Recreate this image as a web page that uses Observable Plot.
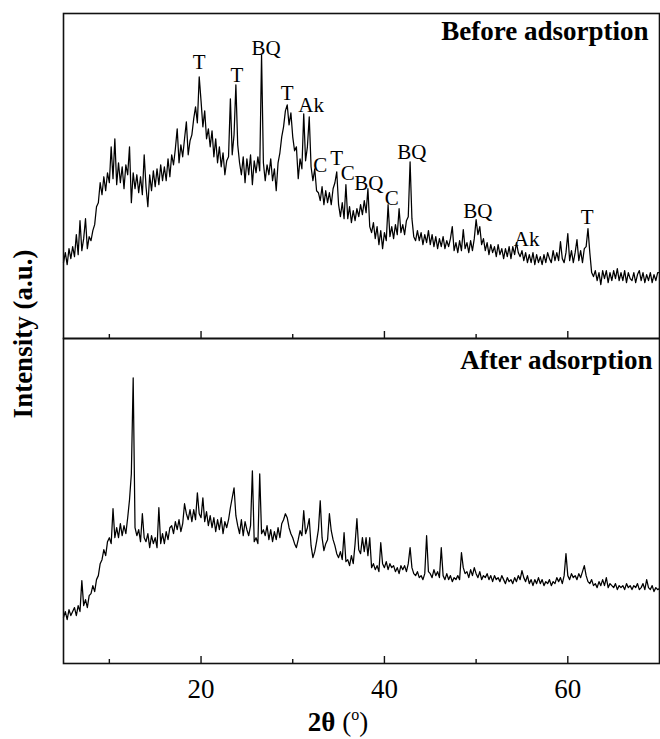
<!DOCTYPE html>
<html>
<head>
<meta charset="utf-8">
<script src="https://cdn.jsdelivr.net/npm/d3@7"></script>
<script src="https://cdn.jsdelivr.net/npm/@observablehq/plot@0.6"></script>
<style>
  body { margin: 0; background: #fff; }
  svg { display: block; }
</style>
</head>
<body>
<div id="chart"></div>
<script>
// ---- data ----
const panels = ["Before adsorption", "After adsorption"];
const scanStart = 5;      // 2θ of first reading
const scanStep = 0.2;     // 2θ step of the scan

// intensity (a.u.), one row per degree (x.0, x.2, x.4, x.6, x.8)
const beforeIntensity = [
  76, 86, 74, 90, 80,      // 5
  92, 82, 104, 84, 118,    // 6
  88, 100, 120, 90, 102,   // 7
  98, 108, 114, 132, 136,  // 8
  156, 144, 162, 148, 166, // 9
  156, 192, 160, 200, 154, // 10
  176, 156, 172, 150, 174, // 11
  164, 192, 136, 166, 150, // 12
  164, 146, 162, 144, 184, // 13
  152, 132, 164, 148, 168, // 14
  152, 170, 154, 174, 158, // 15
  172, 158, 180, 162, 184, // 16
  174, 190, 210, 176, 194, // 17
  182, 200, 217, 184, 198, // 18
  204, 220, 232, 216, 262, // 19
  238, 212, 228, 200, 210, // 20
  192, 208, 182, 200, 176, // 21
  192, 172, 186, 164, 178, // 22
  182, 240, 184, 204, 254, // 23
  194, 176, 164, 182, 156, // 24
  180, 164, 184, 154, 178, // 25
  166, 182, 168, 284, 176, // 26
  158, 174, 164, 180, 158, // 27
  170, 148, 176, 186, 202, // 28
  212, 228, 234, 214, 226, // 29
  202, 188, 192, 160, 180, // 30
  170, 225, 178, 192, 222, // 31
  172, 158, 170, 148, 146, // 32
  138, 152, 134, 148, 136, // 33
  146, 134, 150, 156, 167, // 34
  134, 122, 136, 120, 154, // 35
  120, 132, 116, 128, 118, // 36
  130, 122, 134, 124, 138, // 37
  126, 150, 112, 106, 116, // 38
  100, 112, 94, 108, 90,   // 39
  106, 98, 134, 102, 112,  // 40
  100, 114, 104, 130, 106, // 41
  114, 104, 118, 122, 177, // 42
  120, 102, 98, 108, 98,   // 43
  106, 94, 104, 96, 108,   // 44
  94, 104, 92, 102, 90,    // 45
  100, 92, 102, 90, 98,    // 46
  92, 100, 112, 88, 96,    // 47
  86, 98, 88, 109, 90,     // 48
  96, 86, 98, 88, 100,     // 49
  119, 104, 112, 94, 100,  // 50
  88, 96, 84, 94, 86,      // 51
  92, 82, 94, 84, 90,      // 52
  80, 90, 82, 92, 80,      // 53
  92, 84, 96, 86, 82,      // 54
  88, 78, 86, 76, 84,      // 55
  76, 86, 74, 84, 76,      // 56
  82, 74, 84, 76, 86,      // 57
  80, 76, 88, 78, 86,      // 58
  78, 97, 80, 76, 86,      // 59
  105, 78, 88, 76, 86,     // 60
  99, 78, 88, 76, 90,      // 61
  92, 110, 86, 66, 62,     // 62
  68, 58, 66, 54, 68,      // 63
  60, 68, 56, 66, 58,      // 64
  68, 60, 70, 58, 66,      // 65
  58, 68, 56, 66, 60,      // 66
  58, 66, 56, 64, 68,      // 67
  58, 66, 56, 64, 58,      // 68
  66, 56, 64, 58, 66,      // 69
  66                       // 70
];

const afterIntensity = [
  46, 52, 44, 54, 48,      // 5
  52, 56, 48, 58, 52,      // 6
  83, 58, 64, 56, 68,      // 7
  70, 78, 72, 84, 88,      // 8
  100, 104, 114, 108, 122, // 9
  126, 120, 155, 126, 136, // 10
  126, 140, 128, 138, 130, // 11
  146, 164, 190, 286, 136, // 12
  128, 134, 122, 150, 126, // 13
  122, 130, 116, 128, 120, // 14
  126, 116, 156, 120, 130, // 15
  120, 132, 124, 136, 138, // 16
  130, 142, 134, 144, 132, // 17
  140, 160, 150, 144, 154, // 18
  142, 154, 144, 171, 150, // 19
  146, 166, 142, 152, 138, // 20
  148, 136, 146, 132, 144, // 21
  134, 146, 130, 142, 136, // 22
  144, 156, 166, 176, 148, // 23
  138, 130, 144, 128, 142, // 24
  134, 128, 138, 193, 122, // 25
  126, 120, 190, 130, 134, // 26
  128, 138, 124, 134, 122, // 27
  132, 124, 136, 126, 140, // 28
  144, 150, 146, 136, 130, // 29
  126, 120, 116, 124, 133, // 30
  128, 153, 130, 136, 145, // 31
  118, 106, 112, 122, 134, // 32
  163, 126, 113, 120, 124, // 33
  150, 133, 124, 118, 110, // 34
  106, 112, 104, 131, 102, // 35
  104, 98, 108, 100, 120,  // 36
  145, 114, 110, 126, 112, // 37
  126, 108, 126, 96, 100,  // 38
  94, 98, 92, 121, 100,    // 39
  96, 102, 94, 100, 96,    // 40
  98, 92, 96, 90, 98,      // 41
  94, 98, 92, 100, 116,    // 42
  96, 90, 88, 92, 86,      // 43
  88, 84, 90, 128, 92,     // 44
  90, 86, 94, 88, 92,      // 45
  86, 116, 88, 84, 90,     // 46
  84, 88, 82, 86, 84,      // 47
  88, 84, 111, 96, 90,     // 48
  92, 86, 94, 88, 96,      // 49
  90, 86, 92, 84, 88,      // 50
  86, 90, 84, 88, 82,      // 51
  88, 84, 86, 82, 88,      // 52
  84, 80, 86, 82, 84,      // 53
  80, 86, 82, 88, 84,      // 54
  93, 86, 82, 88, 80,      // 55
  84, 78, 84, 80, 86,      // 56
  80, 84, 78, 82, 80,      // 57
  84, 78, 82, 80, 86,      // 58
  82, 86, 80, 88, 110,     // 59
  88, 84, 90, 86, 88,      // 60
  84, 90, 86, 92, 98,      // 61
  88, 82, 80, 84, 78,      // 62
  80, 76, 82, 78, 84,      // 63
  78, 86, 76, 80, 78,      // 64
  76, 80, 74, 78, 76,      // 65
  78, 74, 80, 76, 78,      // 66
  74, 78, 76, 80, 74,      // 67
  76, 80, 74, 84, 76,      // 68
  74, 78, 72, 76, 74,      // 69
  75                       // 70
];

// phase labels of the "before" pattern
const peakText  = ["T", "T", "BQ", "T", "Ak", "C", "T", "C", "BQ", "C", "BQ", "BQ", "Ak", "T"];
const peakAngle = [19.8, 23.9, 27.1, 29.4, 32.0, 33.0, 34.8, 36.0, 38.3, 40.8, 43.0, 50.2, 55.5, 62.1];
const peakLevel = [270, 257, 284, 239, 227, 167, 174, 159, 149, 134, 180, 121, 93, 115];

const xMajorTicks = [20, 40, 60];
const xMinorTicks = [10, 30, 50];
const xDomain = [5, 70];
const yDomain = [0, 325.5];   // 1 unit of intensity = 1 px
const majorTickLen = 7;
const minorTickLen = 4;

// ---- build ----
const rows = [];
beforeIntensity.forEach((v, i) => rows.push({panel: panels[0], angle: +(scanStart + i * scanStep).toFixed(1), intensity: v}));
afterIntensity.forEach((v, i) => rows.push({panel: panels[1], angle: +(scanStart + i * scanStep).toFixed(1), intensity: v}));
const peaks = peakText.map((t, i) => ({panel: panels[0], text: t, angle: peakAngle[i], level: peakLevel[i]}));
const ticks = [];
panels.forEach(p => {
  xMajorTicks.forEach(v => ticks.push({panel: p, angle: v, len: majorTickLen}));
  xMinorTicks.forEach(v => ticks.push({panel: p, angle: v, len: minorTickLen}));
});

const serif = '"Liberation Serif", "Times New Roman", Times, serif';

const plot = Plot.plot({
  width: 660,
  height: 739,
  marginLeft: 63,
  marginRight: 1,
  marginTop: 12,
  marginBottom: 76,
  style: {fontFamily: serif, fontSize: "21px", color: "black", background: "white"},
  x: {domain: xDomain},
  y: {domain: yDomain, axis: null},
  fy: {domain: panels, padding: 0, axis: null},
  marks: [
    Plot.line(rows, {x: "angle", y: "intensity", fy: "panel", stroke: "black", strokeWidth: 1.25}),
    Plot.frame({stroke: "#111", strokeWidth: 1.6}),
    // inward ticks at the bottom edge of each panel
    Plot.ruleX(ticks, {x: "angle", y1: yDomain[0], y2: "len", fy: "panel", stroke: "#111", strokeWidth: 1.4}),
    Plot.axisX(xMajorTicks, {tickSize: 0, tickPadding: 15, fontSize: 27, label: null, facetAnchor: "bottom"}),
    Plot.text(peaks, {x: "angle", y: "level", fy: "panel", text: "text", lineAnchor: "bottom", textAnchor: "middle", fontSize: 21, fill: "black"}),
    Plot.text([panels[0]], {fy: d => d, text: d => d, frameAnchor: "top-right", textAnchor: "end", lineAnchor: "top", dx: -11, dy: 7, fontSize: 27, fontWeight: "bold", fill: "black"}),
    Plot.text([panels[1]], {fy: d => d, text: d => d, frameAnchor: "top-right", textAnchor: "end", lineAnchor: "top", dx: -7, dy: 11, fontSize: 27, fontWeight: "bold", fill: "black"})
  ]
});

// axis titles
const svg = d3.select(plot);
svg.append("text")
  .attr("transform", "translate(32,334) rotate(-90)")
  .attr("text-anchor", "middle")
  .attr("font-weight", "bold")
  .attr("font-size", 27)
  .attr("fill", "black")
  .text("Intensity (a.u.)");
const xl = svg.append("text")
  .attr("x", 338).attr("y", 731)
  .attr("text-anchor", "middle")
  .attr("font-size", 27)
  .attr("fill", "black");
xl.append("tspan").attr("font-weight", "bold").text("2θ ");
xl.append("tspan").text("(");
xl.append("tspan").attr("font-size", 16).attr("dy", -11).text("o");
xl.append("tspan").attr("dy", 11).text(")");

document.getElementById("chart").appendChild(plot);
</script>
</body>
</html>
